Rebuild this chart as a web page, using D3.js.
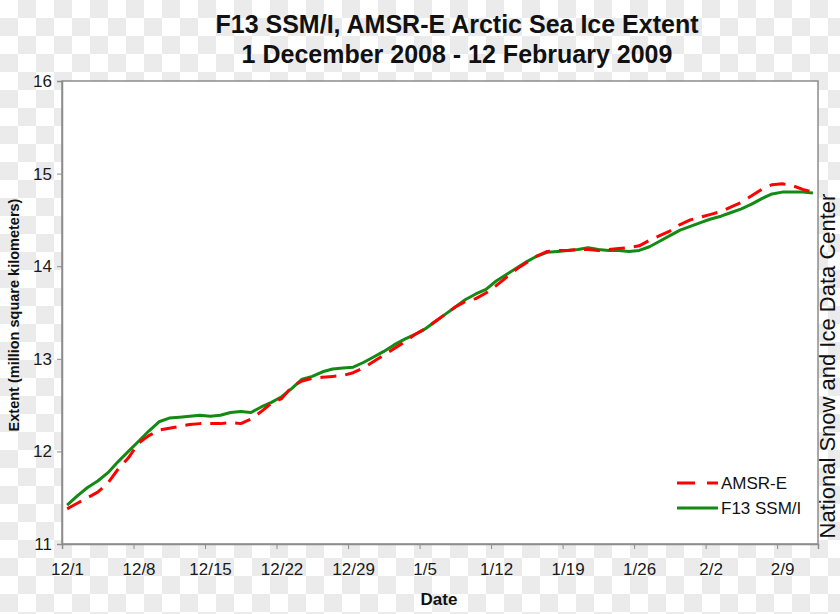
<!DOCTYPE html>
<html>
<head>
<meta charset="utf-8">
<script src="https://cdn.jsdelivr.net/npm/d3@7"></script>
<style>
  html, body { margin: 0; padding: 0; background: #fff; }
  svg { display: block; font-family: "Liberation Sans", Arial, Helvetica, sans-serif; }
</style>
</head>
<body>
<svg id="chart" width="840" height="614"></svg>
<script>
// ---- Data ----
const startDate = "2008-12-01";
const endDate = "2009-02-13";
const tickDates = ["2008-12-01","2008-12-08","2008-12-15","2008-12-22","2008-12-29","2009-01-05","2009-01-12","2009-01-19","2009-01-26","2009-02-02","2009-02-09"];
const tickLabels = ["12/1","12/8","12/15","12/22","12/29","1/5","1/12","1/19","1/26","2/2","2/9"];
const yTicks = [11, 12, 13, 14, 15, 16];
const seriesNames = ["AMSR-E", "F13 SSM/I"];

// Daily values, 1 Dec 2008 .. 12 Feb 2009 (million km^2)
const amsre = [
  11.38, 11.44, 11.50, 11.56, 11.66, 11.81, 11.93, 12.09, 12.17, 12.23,
  12.25, 12.27, 12.29, 12.30, 12.30, 12.30, 12.31, 12.30, 12.35, 12.43,
  12.52, 12.57, 12.70, 12.76, 12.79, 12.80, 12.81, 12.82, 12.85, 12.90,
  12.97, 13.04, 13.11, 13.18, 13.26, 13.32, 13.40, 13.48, 13.56, 13.62,
  13.65, 13.71, 13.79, 13.88, 13.97, 14.04, 14.11, 14.16, 14.17, 14.17,
  14.18, 14.18, 14.17, 14.18, 14.19, 14.20, 14.22, 14.28, 14.33, 14.38,
  14.45, 14.50, 14.53, 14.56, 14.59, 14.64, 14.69, 14.76, 14.83, 14.88,
  14.89, 14.87, 14.83, 14.80
];
const f13 = [
  11.42, 11.52, 11.61, 11.68, 11.77, 11.89, 12.00, 12.11, 12.22, 12.32,
  12.36, 12.37, 12.38, 12.39, 12.38, 12.39, 12.42, 12.43, 12.42, 12.48,
  12.53, 12.59, 12.68, 12.78, 12.81, 12.86, 12.89, 12.90, 12.91, 12.96,
  13.02, 13.08, 13.15, 13.21, 13.26, 13.32, 13.40, 13.48, 13.56, 13.64,
  13.70, 13.75, 13.84, 13.91, 13.98, 14.05, 14.11, 14.15, 14.16, 14.17,
  14.18, 14.20, 14.18, 14.17, 14.17, 14.16, 14.17, 14.21, 14.27, 14.33,
  14.39, 14.43, 14.47, 14.51, 14.54, 14.58, 14.62, 14.67, 14.73, 14.78,
  14.80, 14.80, 14.80, 14.79
];

// ---- Drawing ----
const svg = d3.select("#chart");
const W = 840, H = 614;
const parse = d3.utcParse("%Y-%m-%d");
const t0 = parse(startDate);
const dayMs = 86400000;
const toDate = i => new Date(t0.getTime() + (i + 0.5) * dayMs);

// checkerboard background
const defs = svg.append("defs");
const pat = defs.append("pattern").attr("id", "checker").attr("patternUnits", "userSpaceOnUse")
  .attr("width", 36).attr("height", 36);
pat.append("rect").attr("width", 36).attr("height", 36).attr("fill", "#ffffff");
pat.append("rect").attr("x", 18).attr("y", 0).attr("width", 18).attr("height", 18).attr("fill", "#ebebeb");
pat.append("rect").attr("x", 0).attr("y", 18).attr("width", 18).attr("height", 18).attr("fill", "#ebebeb");
svg.append("rect").attr("width", W).attr("height", H).attr("fill", "url(#checker)");

const plot = { left: 62, right: 818, top: 81, bottom: 544 };

const x = d3.scaleUtc().domain([parse(startDate), parse(endDate)]).range([plot.left, plot.right]);
const y = d3.scaleLinear().domain([11, 16]).range([plot.bottom, plot.top]);

// plot area
svg.append("rect")
  .attr("x", plot.left).attr("y", plot.top)
  .attr("width", plot.right - plot.left).attr("height", plot.bottom - plot.top)
  .attr("fill", "#ffffff").attr("stroke", "#8c8c8c").attr("stroke-width", 1.5);

// axes
const xAxis = d3.axisBottom(x)
  .tickValues(tickDates.map(parse))
  .tickSize(5)
  .tickFormat((d, i) => tickLabels[i]);
const gx = svg.append("g").attr("transform", `translate(0,${plot.bottom})`).call(xAxis);
gx.select(".domain").attr("stroke", "#8c8c8c").attr("stroke-width", 1.5);
gx.selectAll(".tick line").attr("stroke", "#8c8c8c");
gx.selectAll(".tick text").attr("font-size", 17).attr("fill", "#1a1a1a")
  .attr("font-family", "Liberation Sans, Arial, sans-serif")
  .attr("dx", 5).attr("dy", "1.35em");

const yAxis = d3.axisLeft(y).tickValues(yTicks).tickSize(5).tickPadding(5).tickFormat(d3.format("d"));
const gy = svg.append("g").attr("transform", `translate(${plot.left},0)`).call(yAxis);
gy.select(".domain").attr("stroke", "#8c8c8c").attr("stroke-width", 1.5);
gy.selectAll(".tick line").attr("stroke", "#8c8c8c");
gy.selectAll(".tick text").attr("font-size", 17).attr("fill", "#1a1a1a")
  .attr("font-family", "Liberation Sans, Arial, sans-serif");

// lines
const line = d3.line().x((d, i) => x(toDate(i))).y(d => y(d)).curve(d3.curveLinear);
svg.append("path").datum(f13).attr("d", line)
  .attr("fill", "none").attr("stroke", "#138a13").attr("stroke-width", 3)
  .attr("stroke-linejoin", "round");
svg.append("path").datum(amsre).attr("d", line)
  .attr("fill", "none").attr("stroke", "#ff0000").attr("stroke-width", 3)
  .attr("stroke-dasharray", "16,9").attr("stroke-linejoin", "round");

// legend
const legend = svg.append("g");
const legendItems = [
  { name: seriesNames[0], color: "#ff0000", dash: "18,12", y: 483 },
  { name: seriesNames[1], color: "#138a13", dash: null, y: 508 }
];
legendItems.forEach(it => {
  legend.append("line").attr("x1", 677).attr("x2", 718).attr("y1", it.y).attr("y2", it.y)
    .attr("stroke", it.color).attr("stroke-width", 3)
    .attr("stroke-dasharray", it.dash);
  legend.append("text").attr("x", 721).attr("y", it.y + 6).attr("font-size", 17)
    .attr("fill", "#111").text(it.name);
});

// titles
svg.append("text").attr("x", 457).attr("y", 33).attr("text-anchor", "middle")
  .attr("font-size", 25).attr("font-weight", "bold").attr("fill", "#111")
  .text("F13 SSM/I, AMSR-E Arctic Sea Ice Extent");
svg.append("text").attr("x", 457).attr("y", 63).attr("text-anchor", "middle")
  .attr("font-size", 25).attr("font-weight", "bold").attr("fill", "#111")
  .text("1 December 2008 - 12 February 2009");

// axis titles
svg.append("text").attr("x", 439).attr("y", 605).attr("text-anchor", "middle")
  .attr("font-size", 17).attr("font-weight", "bold").attr("fill", "#111").text("Date");
svg.append("text").attr("transform", "translate(19,315) rotate(-90)").attr("text-anchor", "middle")
  .attr("font-size", 14.5).attr("font-weight", "bold").attr("fill", "#111")
  .text("Extent (million square kilometers)");

// credit
svg.append("text").attr("transform", "translate(835,366) rotate(-90)").attr("text-anchor", "middle")
  .attr("font-size", 22).attr("fill", "#111").text("National Snow and Ice Data Center");
</script>
</body>
</html>
